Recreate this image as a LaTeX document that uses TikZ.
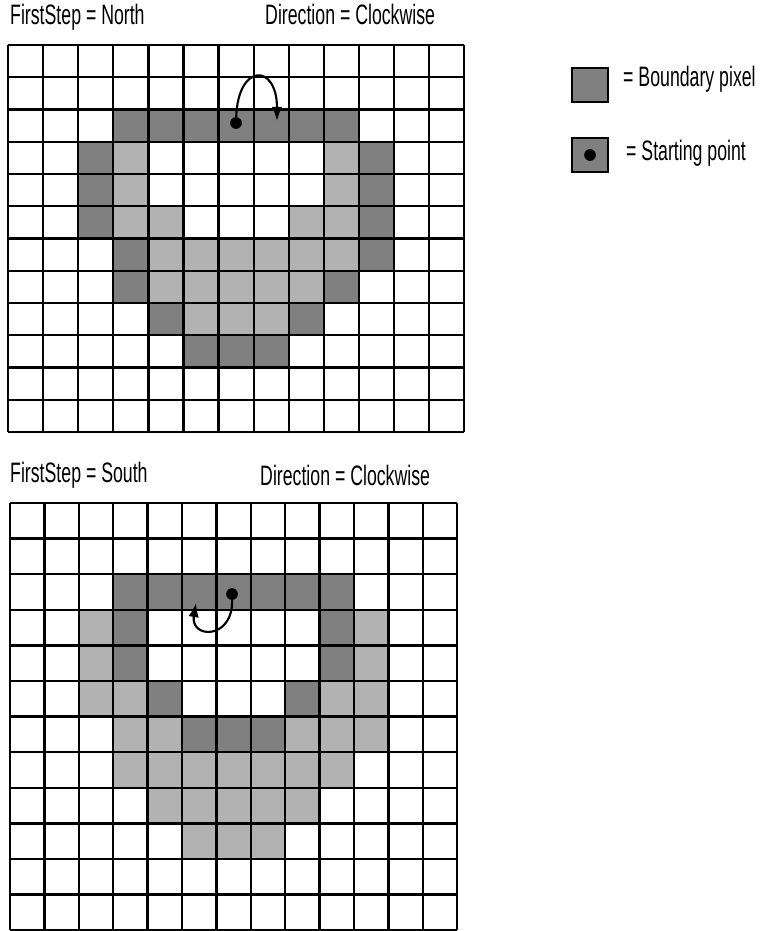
\documentclass[tikz,border=0pt]{standalone}
\usepackage{fontspec}
\setmainfont{Liberation Sans}[FakeStretch=0.63]
\usetikzlibrary{arrows.meta}

\begin{document}
\begin{tikzpicture}[
  x=0.03cm, y=-0.03cm,
  font=\fontsize{24}{28}\selectfont,
  txt/.style={anchor=base west, inner sep=0pt},
  edgepix/.style={fill=black!50},
  innerpix/.style={fill=black!30},
  gridline/.style={line width=1.9pt},
  startdot/.style={circle, fill=black, inner sep=0pt, minimum size=10pt},
  keybox/.style={rectangle, draw, line width=1.9pt, fill=black!50, minimum width=1.08cm, minimum height=1.02cm},
  arr/.style={-{Latex[length=12pt, width=9pt]}, line width=1.8pt}
]
  \useasboundingbox (0,0) rectangle (765,931);

  % titles
  \node[txt] (northstep) at (10,25) {FirstStep = North};
  \node[txt] (northdir) at (265,25) {Direction = Clockwise};
  \node[txt] (southstep) at (10,482) {FirstStep = South};
  \node[txt] (southdir) at (260,485) {Direction = Clockwise};

  % upper grid, first step north
  \begin{scope}[shift={(8,45)}, xscale=35.1, yscale=32.25]
    \foreach \c/\r in {3/3,9/3,3/4,9/4,3/5,4/5,8/5,9/5,4/6,5/6,6/6,7/6,8/6,9/6,
                       4/7,5/7,6/7,7/7,8/7,5/8,6/8,7/8}
      \fill[innerpix] (\c,\r) rectangle +(1,1);
    \foreach \c/\r in {3/2,4/2,5/2,6/2,7/2,8/2,9/2,2/3,10/3,2/4,10/4,2/5,10/5,
                       3/6,10/6,3/7,9/7,4/8,8/8,5/9,6/9,7/9}
      \fill[edgepix] (\c,\r) rectangle +(1,1);
    \foreach \i in {0,...,13}
      \draw[gridline] (\i,0) -- (\i,12);
    \foreach \j in {0,...,12}
      \draw[gridline] (0,\j) -- (13,\j);
  \end{scope}

  % lower grid, first step south
  \begin{scope}[shift={(10,503)}, xscale=34.4, yscale=35.6]
    \foreach \c/\r in {2/3,10/3,2/4,10/4,2/5,3/5,9/5,10/5,3/6,4/6,8/6,9/6,10/6,
                       3/7,4/7,5/7,6/7,7/7,8/7,9/7,4/8,5/8,6/8,7/8,8/8,5/9,6/9,7/9}
      \fill[innerpix] (\c,\r) rectangle +(1,1);
    \foreach \c/\r in {3/2,4/2,5/2,6/2,7/2,8/2,9/2,3/3,9/3,3/4,9/4,4/5,8/5,
                       5/6,6/6,7/6}
      \fill[edgepix] (\c,\r) rectangle +(1,1);
    \foreach \i in {0,...,13}
      \draw[gridline] (\i,0) -- (\i,12);
    \foreach \j in {0,...,12}
      \draw[gridline] (0,\j) -- (13,\j);
  \end{scope}

  % start points and first moves
  \node[startdot] (northstart) at (236,123) {};
  \coordinate (northend) at (277,121);
  \draw[arr] (northstart) .. controls (238,63) and (277,63) .. (northend);

  \node[startdot] (southstart) at (232,594) {};
  \coordinate (southend) at (196,603);
  \draw[arr] (southstart) .. controls (233,640) and (190,639) .. (southend);

  % legend
  \node[keybox] (keyedge) at (590,85) {};
  \node[txt] (keyedgetxt) at (623,87) {= Boundary pixel};
  \node[keybox] (keystart) at (590,155) {};
  \node[startdot] (keydot) at (keystart) {};
  \node[txt] (keystarttxt) at (626,161) {= Starting point};
\end{tikzpicture}
\end{document}
